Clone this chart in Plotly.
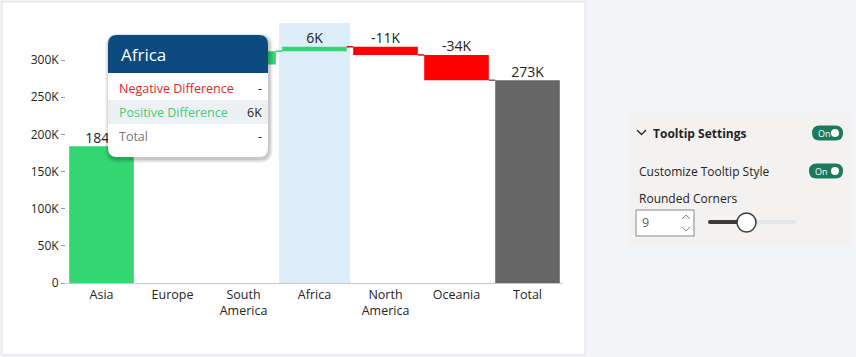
import plotly.graph_objects as go

# ---- data ----
categories = ["Asia", "Europe", "South<br>America", "Africa", "North<br>America", "Oceania", "Total"]
changes = [184000, 110000, 18000, 6000, -11000, -34000]
labels = ["184K", "110K", "18K", "6K", "-11K", "-34K", "273K"]
total_value = 273000
y_tickvals = [0, 50000, 100000, 150000, 200000, 250000, 300000]
y_ticktext = ["0", "50K", "100K", "150K", "200K", "250K", "300K"]

GREEN = "#33d673"
RED = "#ff0000"
GREY = "#666666"
FONT = "Segoe UI, Open Sans, Noto Sans, sans-serif"

# ---- derived waterfall geometry ----
bases, heights, colors, tops = [], [], [], []
cum = 0
for c in changes:
    start = cum
    cum += c
    bases.append(min(start, cum))
    heights.append(abs(c))
    colors.append(GREEN if c >= 0 else RED)
    tops.append(max(start, cum))
bases.append(0)
heights.append(total_value)
colors.append(GREY)
tops.append(total_value)
ends = []
cum = 0
for c in changes:
    cum += c
    ends.append(cum)

fig = go.Figure()
fig.add_trace(go.Bar(x=list(range(len(categories))), y=heights, base=bases,
                     marker=dict(color=colors, line=dict(width=0)),
                     width=0.91, hoverinfo="skip"))
# connectors
for i in range(len(categories) - 1):
    fig.add_trace(go.Scatter(x=[i + 0.455, i + 1 - 0.455], y=[ends[i], ends[i]],
                             mode="lines", line=dict(color=colors[i + 1], width=1.5),
                             hoverinfo="skip"))
# value labels
fig.add_trace(go.Scatter(x=list(range(len(categories))), y=tops, mode="text",
                         text=labels, textposition="top center",
                         textfont=dict(family=FONT, size=14, color="#222"),
                         hoverinfo="skip"))

L, T, R, B = 66, 23, 293, 74
W, H = 856, 357
PW, PH = W - L - R, H - T - B


def px(x):
    return (x - L) / PW


def py(y):
    return (H - B - y) / PH


def rrect(x0, y0, x1, y1, r, top_only=False):
    if top_only:
        s = (f"M{px(x0)},{py(y1)} L{px(x0)},{py(y0 + r)} Q{px(x0)},{py(y0)} {px(x0 + r)},{py(y0)} "
             f"L{px(x1 - r)},{py(y0)} Q{px(x1)},{py(y0)} {px(x1)},{py(y0 + r)} L{px(x1)},{py(y1)} Z")
        return s
    s = (f"M{px(x0 + r)},{py(y0)} L{px(x1 - r)},{py(y0)} Q{px(x1)},{py(y0)} {px(x1)},{py(y0 + r)} "
         f"L{px(x1)},{py(y1 - r)} Q{px(x1)},{py(y1)} {px(x1 - r)},{py(y1)} "
         f"L{px(x0 + r)},{py(y1)} Q{px(x0)},{py(y1)} {px(x0)},{py(y1 - r)} "
         f"L{px(x0)},{py(y0 + r)} Q{px(x0)},{py(y0)} {px(x0 + r)},{py(y0)} Z")
    return s


shapes = []
# white card
shapes.append(dict(type="rect", xref="paper", yref="paper", x0=px(2), x1=px(585), y0=py(355), y1=py(2),
                   fillcolor="white", line=dict(color="#e1e1e6", width=1), layer="below"))
# Africa highlight
shapes.append(dict(type="rect", xref="x", yref="paper", x0=2.5, x1=3.5, y0=0, y1=1,
                   fillcolor="#ddeef8", line=dict(width=0), layer="below"))
# tooltip shadow
for k, op in [(4, 0.04), (3, 0.05), (2, 0.06), (1, 0.08)]:
    shapes.append(dict(type="path", xref="paper", yref="paper",
                       path=rrect(108 - k + 1, 35 - k + 2, 268 + k + 1, 157 + k + 2, 9 + k),
                       fillcolor=f"rgba(0,0,0,{op})", line=dict(width=0), layer="above"))
shapes.append(dict(type="path", xref="paper", yref="paper", path=rrect(108, 35, 268, 157, 9),
                   fillcolor="white", line=dict(width=0), layer="above"))
shapes.append(dict(type="path", xref="paper", yref="paper", path=rrect(108, 35, 268, 73, 9, top_only=True),
                   fillcolor="#0c4a80", line=dict(width=0), layer="above"))
shapes.append(dict(type="rect", xref="paper", yref="paper", x0=px(108), x1=px(268), y0=py(124), y1=py(100),
                   fillcolor="#eef1f4", line=dict(width=0), layer="above"))
# right settings panel
shapes.append(dict(type="rect", xref="paper", yref="paper", x0=px(628), x1=px(851), y0=py(246), y1=py(113),
                   fillcolor="#f3f2f1", line=dict(width=0), layer="above"))
# chevron
shapes.append(dict(type="path", xref="paper", yref="paper",
                   path=f"M{px(637)},{py(130)} L{px(641.5)},{py(134.5)} L{px(646)},{py(130)}",
                   line=dict(color="#252423", width=1.3), layer="above"))
# toggles
for (x0, x1, yc) in [(812, 843, 133), (809, 843, 171)]:
    shapes.append(dict(type="path", xref="paper", yref="paper", path=rrect(x0, yc - 7.5, x1, yc + 7.5, 7.5),
                       fillcolor="#1b7a5e", line=dict(width=0), layer="above"))
    shapes.append(dict(type="circle", xref="paper", yref="paper", x0=px(x1 - 12), x1=px(x1 - 4),
                       y0=py(yc + 4), y1=py(yc - 4), fillcolor="white", line=dict(width=0), layer="above"))
# number input box
shapes.append(dict(type="rect", xref="paper", yref="paper", x0=px(636), x1=px(694), y0=py(236), y1=py(210),
                   fillcolor="white", line=dict(color="#8a8886", width=1), layer="above"))
shapes.append(dict(type="path", xref="paper", yref="paper",
                   path=f"M{px(682)},{py(219)} L{px(686)},{py(215)} L{px(690)},{py(219)}",
                   line=dict(color="#8a8886", width=1), layer="above"))
shapes.append(dict(type="path", xref="paper", yref="paper",
                   path=f"M{px(682)},{py(227)} L{px(686)},{py(231)} L{px(690)},{py(227)}",
                   line=dict(color="#8a8886", width=1), layer="above"))
# slider
shapes.append(dict(type="path", xref="paper", yref="paper", path=rrect(708, 220, 796, 224, 2),
                   fillcolor="#e6e6e6", line=dict(width=0), layer="above"))
shapes.append(dict(type="path", xref="paper", yref="paper", path=rrect(708, 220, 746, 224, 2),
                   fillcolor="#3b3a39", line=dict(width=0), layer="above"))
shapes.append(dict(type="circle", xref="paper", yref="paper", x0=px(737), x1=px(756),
                   y0=py(232), y1=py(213), fillcolor="white", line=dict(color="#3b3a39", width=1.5),
                   layer="above"))

ann = []


def txt(x, y, s, size, color, anchor="left", weight="normal"):
    ann.append(dict(xref="paper", yref="paper", x=px(x), y=py(y), text=s, showarrow=False,
                    xanchor=anchor, yanchor="middle",
                    font=dict(family=FONT, size=size, color=color, weight=weight)))


txt(119, 54, "Africa", 17, "white")
txt(117, 88, "Negative Difference", 12.5, "#e3242b")
txt(264, 88, "-", 12.5, "#252423", "right")
txt(117, 112, "Positive Difference", 12.5, "#3ccf73")
txt(264, 112, "6K", 12.5, "#252423", "right")
txt(117, 136, "Total", 12.5, "#777777")
txt(264, 136, "-", 12.5, "#252423", "right")

txt(651, 133, "Tooltip Settings", 12, "#252423", weight="bold")
txt(637, 171, "Customize Tooltip Style", 12, "#252423")
txt(637, 198, "Rounded Corners", 12, "#252423")
txt(640, 223, "9", 12.5, "#605e5c")
txt(815.5, 133, "On", 9, "white")
txt(812.5, 171, "On", 9, "white")

fig.update_layout(
    width=W, height=H,
    margin=dict(l=L, r=R, t=T, b=B, pad=0),
    paper_bgcolor="#f3f4f8",
    plot_bgcolor="rgba(0,0,0,0)",
    showlegend=False,
    bargap=0.09,
    shapes=shapes,
    annotations=ann,
    font=dict(family=FONT, color="#252423"),
    xaxis=dict(tickvals=list(range(len(categories))), ticktext=categories, range=[-0.5, len(categories) - 0.5],
               showgrid=False, zeroline=False, showline=True, linecolor="#c8c8c8", linewidth=1,
               ticks="", tickfont=dict(family=FONT, size=12.5, color="#252423"), fixedrange=True),
    yaxis=dict(range=[0, 350000], tickvals=y_tickvals, ticktext=y_ticktext, showgrid=False,
               zeroline=False, showline=False, ticks="outside", ticklen=4, tickcolor="#9a9a9a",
               tickfont=dict(family=FONT, size=12, color="#252423"), fixedrange=True),
)

fig.write_html("out.html", config={"displayModeBar": False},
               post_script="document.body.style.margin='0';document.body.style.overflow='hidden';")
